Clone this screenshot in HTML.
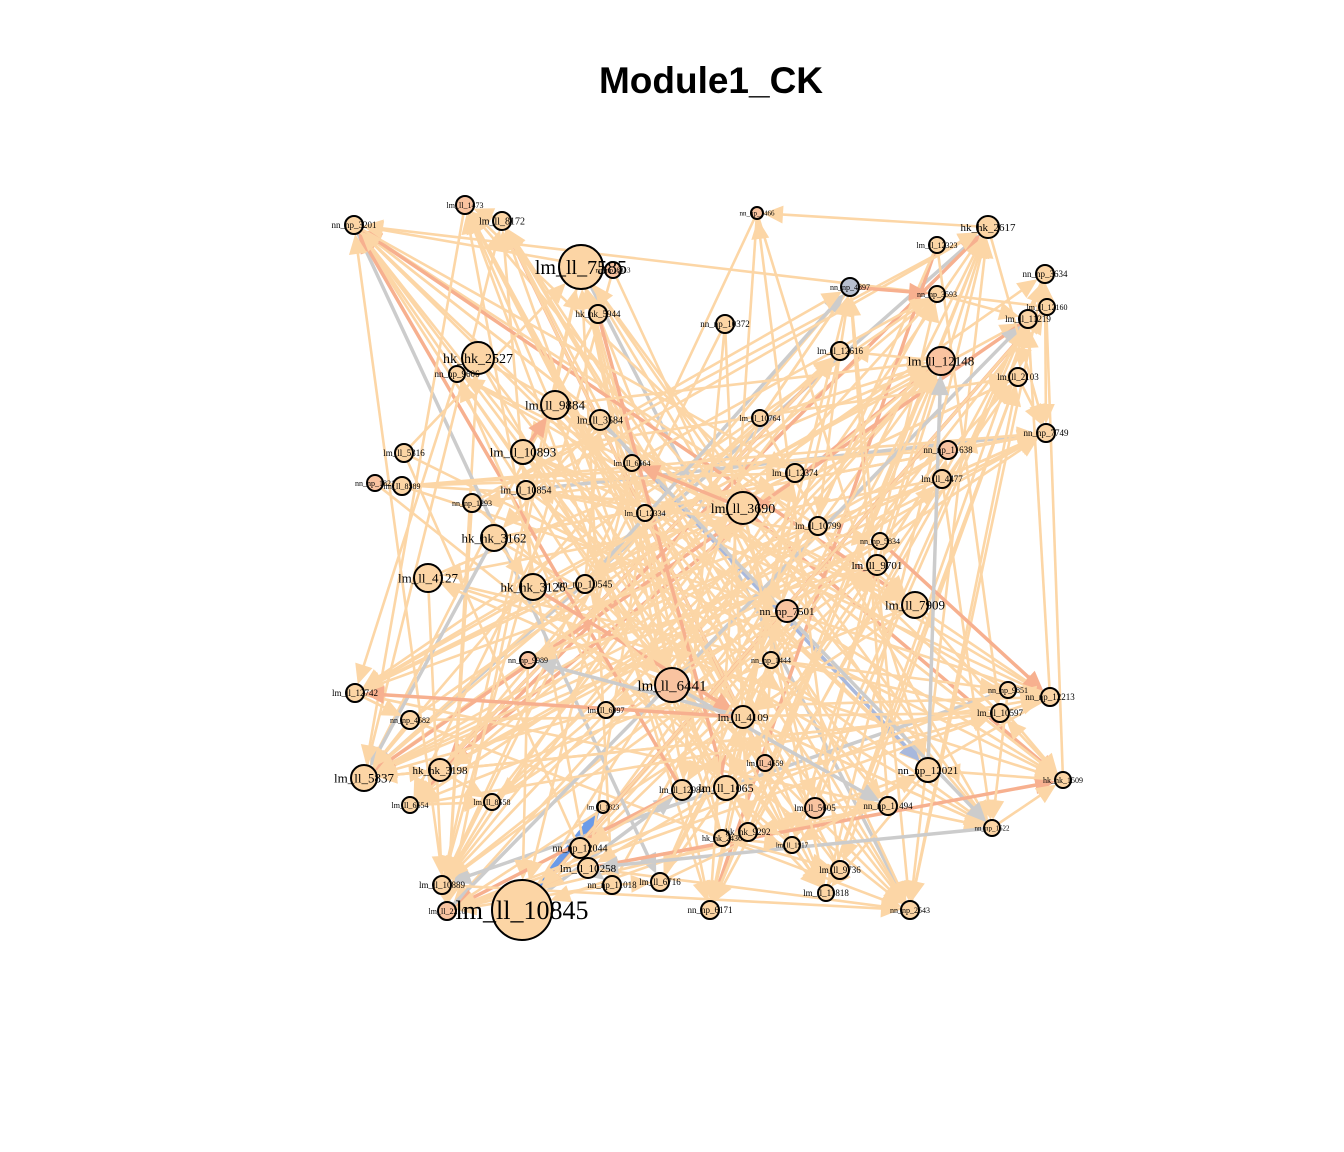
<!DOCTYPE html>
<html><head><meta charset="utf-8"><style>
html,body{margin:0;padding:0;background:#fff;}
svg{display:block;}
</style></head><body>
<svg id="chart" width="1344" height="1152" viewBox="0 0 1344 1152" xmlns="http://www.w3.org/2000/svg">
<text x="711" y="93" text-anchor="middle" font-family="Liberation Sans, sans-serif" font-weight="bold" font-size="37" fill="#000">Module1_CK</text>
<g id="edges"></g>
<g id="nodes"></g>
</svg>
<script>
const nodeNames=["lm_ll_10845","lm_ll_7585","lm_ll_3690","lm_ll_6441","hk_hk_2527","lm_ll_9884","lm_ll_10893","hk_hk_3162","lm_ll_4127","hk_hk_3126","lm_ll_12148","lm_ll_7909","lm_ll_5837","lm_ll_4109","hk_hk_2617","nn_np_12021","lm_ll_1065","nn_np_7501","hk_hk_3198","lm_ll_9701","nn_np_12044","lm_ll_10258","nn_np_3201","lm_ll_8172","lm_ll_1473","lm_ll_12616","nn_np_4897","nn_np_3593","lm_ll_11219","lm_ll_2103","nn_np_7749","nn_np_11638","lm_ll_4477","lm_ll_12374","lm_ll_10799","lm_ll_10854","nn_np_1293","lm_ll_5316","nn_np_1821","lm_ll_8589","nn_np_9606","lm_ll_12742","lm_ll_6654","lm_ll_8558","lm_ll_10889","lm_ll_2210","nn_np_11018","lm_ll_6716","nn_np_6171","lm_ll_11818","nn_np_2543","lm_ll_9736","lm_ll_5605","nn_np_11494","nn_np_1622","hk_hk_1509","lm_ll_10597","nn_np_12213","nn_np_9851","lm_ll_4659","hk_hk_9292","hk_hk_2436","lm_ll_12984","lm_ll_1917","lm_ll_6997","nn_np_4582","nn_np_9989","nn_np_1444","nn_np_10545","lm_ll_6564","lm_ll_12334","nn_np_10372","hk_hk_5944","nn_np_8813","lm_ll_3584","lm_ll_10764","lm_ll_12323","nn_np_5834","nn_np_3634","lm_ll_12160","nn_np_1466","lm_ll_1323"];
const nodeX=[522,581,743,672,478,555,523,494,428,533,941,915,364,743,988,928,726,787,440,877,580,588,354,502,465,840,850,937,1028,1018,1046,948,942,795,818,526,472,404,375,402,457,355,410,492,442,447,612,660,710,826,910,840,815,888,992,1063,1000,1050,1008,765,748,722,682,792,606,410,528,771,585,632,645,725,598,613,600,760,937,880,1045,1047,757,603];
const nodeY=[910,267,508,685,358,405,452,538,578,587,361,605,778,717,227,770,788,611,770,565,848,868,225,221,205,351,287,294,319,377,433,450,479,473,526,490,503,453,483,486,374,693,805,802,885,911,885,882,910,893,910,870,808,806,828,780,713,697,690,763,832,838,790,845,710,720,660,660,584,463,513,324,314,270,420,418,245,541,274,307,213,807];
const nodeR=[30,22,16,17,16,14,12,13,14,13,14,13,13,11,11,12,12,11,11,10,10,10,9,9,9,9,9,8,9,9,9,9,9,9,9,9,9,9,8,9,8,9,8,8,9,9,9,9,9,8,9,9,10,9,8,8,9,9,8,8,9,8,10,8,8,9,8,8,9,8,8,9,9,8,10,8,8,8,9,8,6,6];
const labelSize=[26,20,14,15,14,13,13,13,13,13,13,13,13,11,11,11,12,11,11,11,10,11,9,10,8,9,8,8,9,9,9,9,9,9,9,10,8,9,8,8,9,9,8,8,9,8,9,9,9,9,8,9,9,9,7,8,9,9,8,8,9,8,9,7,8,8,8,8,10,8,8,9,9,7,10,8,8,8,9,8,7,7];
const edgeFrom=[0,1,1,1,2,2,2,3,3,3,4,4,5,5,6,6,7,7,8,8,9,9,10,10,11,11,12,13,14,15,16,17,18,19,20,21,22,23,24,25,26,27,28,29,30,31,32,33,34,35,36,37,38,39,40,41,42,43,44,45,46,47,48,49,50,51,52,53,54,55,56,57,58,59,60,61,62,63,64,65,66,67,68,69,70,71,72,73,74,75,76,77,78,79,80,0,0,1,2,3,4,5,6,7,8,9,10,11,12,13,14,15,16,17,18,19,20,21,22,23,24,25,26,27,28,29,30,31,32,33,34,35,36,37,38,39,40,41,42,43,44,45,46,47,48,49,50,51,52,53,54,55,56,57,58,59,60,61,62,63,64,65,66,67,68,69,70,71,72,73,74,75,76,77,78,79,80,3,2,13,17,19,11,33,34,5,6,7,9,68,66,64,62,16,59,52,53,15,56,57,32,31,30,29,28,10,25,26,71,72,74,69,70,35,36,37,39,8,41,65,18,12,42,43,44,45,21,46,47,48,49,50,51,54,55,58,60,61,63,67,73,75,76,77,78,79,80,24,23,22,40,4,1,14,27,2,3,5,6,7,9,13,16,17,19,33,34,35,64,66,68,69,70,74,75,36,39,2,3,13,16,17,59,62,67,11,19,31,32,77,9,7,8,5,6,74,69,70,2,3,62,20,21,46,47,52,53,60,61,63,16,13,41,65,12,18,42,43,44,45,56,57,58,54,55,15,10,25,26,27,28,29,30];
const edgeTo=[81,3,15,50,41,55,12,14,22,54,2,50,15,48,11,57,30,54,10,55,28,49,18,45,22,42,14,24,80,22,1,44,30,12,10,24,55,50,3,18,44,12,45,2,36,12,8,41,22,30,14,55,2,57,49,29,14,10,1,28,1,10,1,24,14,22,27,23,24,22,12,22,44,23,79,1,24,14,12,50,30,23,22,12,50,44,49,50,15,54,48,12,50,22,44,62,33,17,44,28,45,57,49,30,56,23,42,22,25,45,48,0,56,0,25,0,29,45,47,59,63,34,44,41,12,51,12,42,41,48,43,54,45,21,50,31,11,54,26,25,19,28,27,29,10,14,21,23,22,26,1,78,24,28,40,24,3,23,22,24,40,78,30,58,26,27,22,62,12,44,42,10,47,18,63,0,15,54,52,63,55,10,55,41,11,53,29,12,41,50,0,57,45,26,21,28,45,49,12,63,54,42,30,49,48,44,48,50,60,16,54,0,21,14,26,1,30,44,10,56,43,23,57,30,50,22,55,45,14,10,78,29,80,21,56,45,14,51,15,79,22,3,56,57,30,0,48,12,24,33,41,16,45,30,2,49,53,10,17,9,13,33,19,64,66,70,34,77,2,2,74,3,35,7,68,3,33,69,8,66,68,62,67,17,16,13,11,19,31,32,9,7,8,6,5,74,69,70,2,3,20,21,46,47,52,53,60,61,63,16,13,41,65,12,18,42,43,44,45,56,57,58,54,55,15,10,25,26,27,28,29,30,31];
const svgNS="http://www.w3.org/2000/svg";
const eg=document.getElementById('edges');
const ng=document.getElementById('nodes');
function edgeColor(i){
  if(i===0)return "#6b9be8";
  if(i%23===3)return "#cccccc";
  if(i%17===5)return "#f7b08f";
  if(i===88)return "#a8b8dc";
  return "#fcd6a6";
}
for(let i=0;i<edgeFrom.length;i++){
  const a=edgeFrom[i],b=edgeTo[i];
  if(a===b||b===undefined)continue;
  const x1=nodeX[a],y1=nodeY[a],x2=nodeX[b],y2=nodeY[b];
  const dx=x2-x1,dy=y2-y1,L=Math.hypot(dx,dy)||1;
  const ux=dx/L,uy=dy/L;
  const ex=x2-ux*nodeR[b],ey=y2-uy*nodeR[b];
  const c=edgeColor(i);
  const w=i===0?9:(c==="#fcd6a6"?2.6:3.5);
  const line=document.createElementNS(svgNS,'line');
  
  
  line.setAttribute('x1',x1);line.setAttribute('y1',y1);
  line.setAttribute('x2',ex-ux*14);line.setAttribute('y2',ey-uy*14);
  line.setAttribute('stroke',c);line.setAttribute('stroke-width',w);
  eg.appendChild(line);
  const al=20,aw=9;
  const bx=ex-ux*al,by=ey-uy*al;
  const tri=document.createElementNS(svgNS,'polygon');
  
  
  tri.setAttribute('points',`${ex},${ey} ${bx-uy*aw},${by+ux*aw} ${bx+uy*aw},${by-ux*aw}`);
  tri.setAttribute('fill',c);
  eg.appendChild(tri);
}
for(let i=0;i<nodeNames.length;i++){
  const c=document.createElementNS(svgNS,'circle');
  
  
  c.setAttribute('cx',nodeX[i]);c.setAttribute('cy',nodeY[i]);c.setAttribute('r',nodeR[i]);
  c.setAttribute('fill',i===26?"#b8c0d0":(i%7===3?"#f9c3a0":"#fcd5a5"));
  c.setAttribute('stroke','#000');c.setAttribute('stroke-width',2);
  ng.appendChild(c);
}
for(let i=0;i<nodeNames.length;i++){
  const t=document.createElementNS(svgNS,'text');
  
  
  t.setAttribute('x',nodeX[i]);t.setAttribute('y',nodeY[i]+labelSize[i]*0.35);
  t.setAttribute('text-anchor','middle');
  t.setAttribute('font-family','Liberation Serif, serif');
  t.setAttribute('font-size',labelSize[i]);
  t.setAttribute('fill','#000');
  t.textContent=nodeNames[i];
  ng.appendChild(t);
}
</script>
</body></html>
